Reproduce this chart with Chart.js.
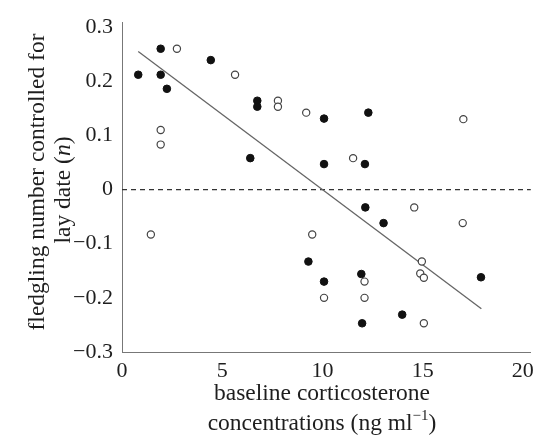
<!DOCTYPE html>
<html>
<head>
<meta charset="utf-8">
<script src="https://cdn.jsdelivr.net/npm/chart.js@4.4.1/dist/chart.umd.min.js"></script>
<style>
  html, body { margin: 0; padding: 0; background: #fff; }
  #wrap { width: 540px; height: 437px; }
</style>
</head>
<body>
<div id="wrap"><canvas id="chart" width="540" height="437"></canvas></div>
<script>
// filled circles
const filledX = [0.81, 1.93, 1.93, 2.24, 4.43, 6.75, 6.75, 6.40, 10.08, 10.08,
                 12.29, 12.12, 9.30, 10.08, 12.14, 13.05, 11.94, 13.98, 11.98, 17.91];
const filledY = [0.212, 0.260, 0.212, 0.186, 0.239, 0.164, 0.153, 0.058, 0.131, 0.047,
                 0.142, 0.047, -0.133, -0.170, -0.033, -0.062, -0.156, -0.231, -0.247, -0.162];

// open circles
const openX = [2.74, 5.64, 7.78, 7.78, 9.19, 1.93, 1.93, 17.03, 11.53, 1.44,
               9.49, 10.08, 14.58, 17.0, 14.96, 14.88, 15.06, 12.10, 12.10, 15.06];
const openY = [0.260, 0.212, 0.164, 0.153, 0.142, 0.110, 0.083, 0.130, 0.058, -0.083,
               -0.083, -0.200, -0.033, -0.062, -0.133, -0.155, -0.163, -0.170, -0.200, -0.247];

// fitted line end points
const fitX = [0.81, 17.93];
const fitY = [0.255, -0.220];

const xTicks = [0, 5, 10, 15, 20];
const yTicks = [-0.3, -0.2, -0.1, 0, 0.1, 0.2, 0.3];

const FONT = '"Liberation Serif", "Times New Roman", serif';
const INK = '#1e1e1e';

function toPoints(xs, ys) {
    return xs.map((x, i) => ({ x: x, y: ys[i] }));
}

function fmtTick(v) {
    const r = Math.round(v * 10) / 10;
    if (r === 0) return '0';
    return (r < 0 ? '\u2212' : '') + Math.abs(r).toFixed(1);
}

// draws a line of mixed-style text centred on cx
function mixedLine(ctx, parts, cx, y) {
    let total = 0;
    parts.forEach(p => { ctx.font = p[1]; total += ctx.measureText(p[0]).width; });
    ctx.textAlign = 'left';
    let x = cx - total / 2;
    parts.forEach(p => {
        ctx.font = p[1];
        ctx.fillText(p[0], x, y + (p[2] || 0));
        x += ctx.measureText(p[0]).width;
    });
}

// axis titles with italic n and superscript
const axisTitles = {
    id: 'axisTitles',
    afterDraw(chart) {
        const ctx = chart.ctx;
        const f = '23.5px ' + FONT;
        ctx.save();
        ctx.fillStyle = INK;
        ctx.textBaseline = 'middle';

        // y title, rotated
        ctx.save();
        ctx.translate(38, 182);
        ctx.rotate(-Math.PI / 2);
        ctx.textAlign = 'center';
        ctx.font = f;
        ctx.fillText('fledgling number controlled for', 0, 0);
        mixedLine(ctx, [['lay date (', f], ['n', 'italic ' + f], [')', f]], -8, 26);
        ctx.restore();

        // x title
        ctx.textAlign = 'center';
        ctx.font = f;
        ctx.fillText('baseline corticosterone', 322, 394);
        mixedLine(ctx, [['concentrations (ng ml', f],
                        ['\u22121', '15px ' + FONT, -8],
                        [')', f]], 322, 424);
        ctx.restore();
    }
};

const ctx = document.getElementById('chart').getContext('2d');
new Chart(ctx, {
    type: 'scatter',
    data: {
        datasets: [
            {
                label: 'zero',
                type: 'line',
                data: [{ x: 0, y: 0 }, { x: 20.4, y: 0 }],
                borderColor: '#333',
                borderWidth: 1.3,
                borderDash: [5, 4],
                pointRadius: 0,
                order: 3
            },
            {
                label: 'fit',
                type: 'line',
                data: toPoints(fitX, fitY),
                borderColor: '#666',
                borderWidth: 1.3,
                pointRadius: 0,
                order: 2
            },
            {
                label: 'open',
                data: toPoints(openX, openY),
                backgroundColor: '#fff',
                borderColor: '#444',
                borderWidth: 1.2,
                pointRadius: 3.6,
                order: 1
            },
            {
                label: 'filled',
                data: toPoints(filledX, filledY),
                backgroundColor: '#111',
                borderColor: '#111',
                borderWidth: 1,
                pointRadius: 3.8,
                order: 0
            }
        ]
    },
    options: {
        responsive: false,
        animation: false,
        layout: { padding: { top: 20, right: 7, bottom: 0, left: 0 } },
        plugins: {
            legend: { display: false },
            tooltip: { enabled: false }
        },
        scales: {
            x: {
                type: 'linear',
                min: 0,
                max: 20.4,
                afterBuildTicks: (axis) => { axis.ticks = xTicks.map(v => ({ value: v })); },
                afterFit: (axis) => { axis.height = 85; },
                grid: { display: false, drawTicks: false },
                border: { display: true, color: '#777', width: 1 },
                ticks: {
                    color: INK,
                    padding: 6,
                    maxRotation: 0,
                    font: { family: FONT, size: 22 }
                }
            },
            y: {
                min: -0.3,
                max: 0.309,
                afterBuildTicks: (axis) => { axis.ticks = yTicks.map(v => ({ value: v })); },
                afterFit: (axis) => { axis.width = 122; },
                grid: { display: false, drawTicks: false },
                border: { display: true, color: '#777', width: 1 },
                ticks: {
                    color: INK,
                    padding: 9,
                    font: { family: FONT, size: 22 },
                    callback: (v) => fmtTick(v)
                }
            }
        }
    },
    plugins: [axisTitles]
});
</script>
</body>
</html>
